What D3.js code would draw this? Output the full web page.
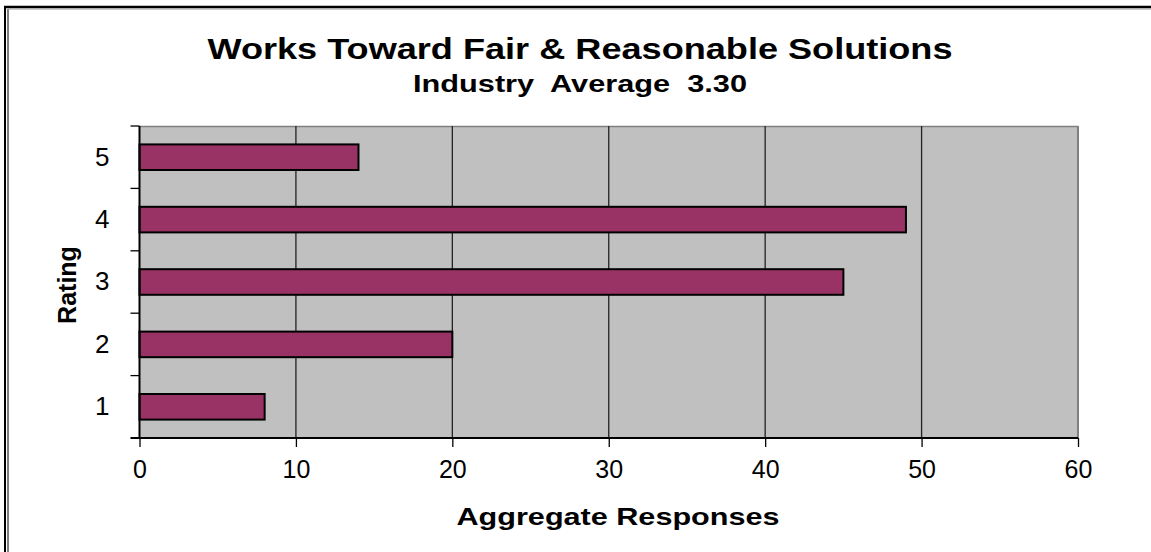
<!DOCTYPE html>
<html>
<head>
<meta charset="utf-8">
<script src="https://cdn.jsdelivr.net/npm/d3@7"></script>
<style>
  html, body { margin: 0; padding: 0; background: #ffffff; }
  svg { display: block; font-family: "Liberation Sans", Arial, sans-serif; }
</style>
</head>
<body>
<svg id="chart" width="1151" height="552"></svg>
<script>
// Chart data
const ratings = ["5", "4", "3", "2", "1"];
const responses = [14, 49, 45, 20, 8];
const xTicks = [0, 10, 20, 30, 40, 50, 60];
const titleText = "Works Toward Fair & Reasonable Solutions";
const subtitleText = "Industry  Average  3.30";
const xTitle = "Aggregate Responses";
const yTitle = "Rating";

const svg = d3.select("#chart");
const W = 1151, H = 552;
const plot = { left: 139.5, right: 1078, top: 126, bottom: 438 };

// Double frame along the left and top edges
svg.append("line").attr("x1", 5).attr("y1", 6).attr("x2", 5).attr("y2", H)
  .attr("stroke", "#000").attr("stroke-width", 2);
svg.append("line").attr("x1", 8).attr("y1", 9).attr("x2", 8).attr("y2", H)
  .attr("stroke", "#000").attr("stroke-width", 1);
svg.append("line").attr("x1", 4).attr("y1", 7).attr("x2", W).attr("y2", 7)
  .attr("stroke", "#000").attr("stroke-width", 2.5);
svg.append("line").attr("x1", 8).attr("y1", 9).attr("x2", W).attr("y2", 9)
  .attr("stroke", "#9a9a9a").attr("stroke-width", 1);

// Scales
const x = d3.scaleLinear().domain([0, 60]).range([plot.left, plot.right]);
const yCat = d3.scaleBand().domain(ratings).range([plot.top, plot.bottom]).padding(0);
const yBar = d3.scaleBand().domain(ratings).range([plot.top, plot.bottom])
  .paddingInner(0.59).paddingOuter(0.295);

// Plot area background
svg.append("rect")
  .attr("x", plot.left).attr("y", plot.top)
  .attr("width", plot.right - plot.left).attr("height", plot.bottom - plot.top)
  .attr("fill", "#c0c0c0");

// Top and right edges of the plot area
svg.append("line").attr("x1", plot.left).attr("x2", plot.right)
  .attr("y1", plot.top + 0.5).attr("y2", plot.top + 0.5)
  .attr("stroke", "#808080").attr("stroke-width", 1.5);
svg.append("line").attr("x1", plot.right).attr("x2", plot.right)
  .attr("y1", plot.top).attr("y2", plot.bottom)
  .attr("stroke", "#808080").attr("stroke-width", 2);

// Vertical gridlines
svg.append("g").selectAll("line")
  .data(xTicks.filter(d => d > 0 && d < 60))
  .join("line")
  .attr("x1", d => x(d)).attr("x2", d => x(d))
  .attr("y1", plot.top).attr("y2", plot.bottom)
  .attr("stroke", "#222").attr("stroke-width", 1.3);

// Bars
svg.append("g").selectAll("rect")
  .data(ratings.map((r, i) => ({ r, v: responses[i] })))
  .join("rect")
  .attr("x", x(0))
  .attr("y", d => yBar(d.r))
  .attr("width", d => x(d.v) - x(0))
  .attr("height", yBar.bandwidth())
  .attr("fill", "#993366")
  .attr("stroke", "#000")
  .attr("stroke-width", 2);

// X axis
const xAxis = svg.append("g")
  .attr("transform", `translate(0,${plot.bottom})`)
  .call(d3.axisBottom(x).tickValues(xTicks).tickSize(9).tickPadding(13).tickSizeOuter(0));
xAxis.select(".domain").attr("stroke", "#000").attr("stroke-width", 2)
  .attr("d", `M${plot.left - 9},0H${plot.right}`);
xAxis.selectAll(".tick line").attr("stroke", "#000").attr("stroke-width", 1.3);
xAxis.selectAll(".tick text")
  .attr("font-size", 25).attr("fill", "#000")
  .attr("font-family", "'Liberation Sans', Arial, sans-serif");

// Y axis: labels centred on categories, ticks on category boundaries
const yAxis = svg.append("g")
  .attr("transform", `translate(${plot.left},0)`)
  .call(d3.axisLeft(yCat).tickSize(0).tickPadding(30).tickSizeOuter(0));
yAxis.select(".domain").attr("stroke", "#000").attr("stroke-width", 2)
  .attr("d", `M0,${plot.top}V${plot.bottom}`);
yAxis.selectAll(".tick text")
  .attr("font-size", 26).attr("fill", "#000")
  .attr("font-family", "'Liberation Sans', Arial, sans-serif");

const boundaries = ratings.map(r => yCat(r));
svg.append("g").selectAll("line")
  .data(boundaries)
  .join("line")
  .attr("x1", plot.left - 9).attr("x2", plot.left)
  .attr("y1", d => d).attr("y2", d => d)
  .attr("stroke", "#000").attr("stroke-width", 1.3);

// Titles
svg.append("text")
  .attr("x", 580).attr("y", 59)
  .attr("text-anchor", "middle")
  .attr("font-size", 29).attr("font-weight", "bold")
  .attr("textLength", 745).attr("lengthAdjust", "spacingAndGlyphs")
  .text(titleText);

svg.append("text")
  .attr("x", 580).attr("y", 92)
  .attr("text-anchor", "middle")
  .attr("font-size", 23).attr("font-weight", "bold")
  .attr("textLength", 334).attr("lengthAdjust", "spacingAndGlyphs")
  .style("white-space", "pre")
  .text(subtitleText);

svg.append("text")
  .attr("x", 618).attr("y", 525)
  .attr("text-anchor", "middle")
  .attr("font-size", 24).attr("font-weight", "bold")
  .attr("textLength", 323).attr("lengthAdjust", "spacingAndGlyphs")
  .text(xTitle);

svg.append("text")
  .attr("transform", "translate(76,285) rotate(-90)")
  .attr("text-anchor", "middle")
  .attr("font-size", 25).attr("font-weight", "bold")
  .text(yTitle);
</script>
</body>
</html>
